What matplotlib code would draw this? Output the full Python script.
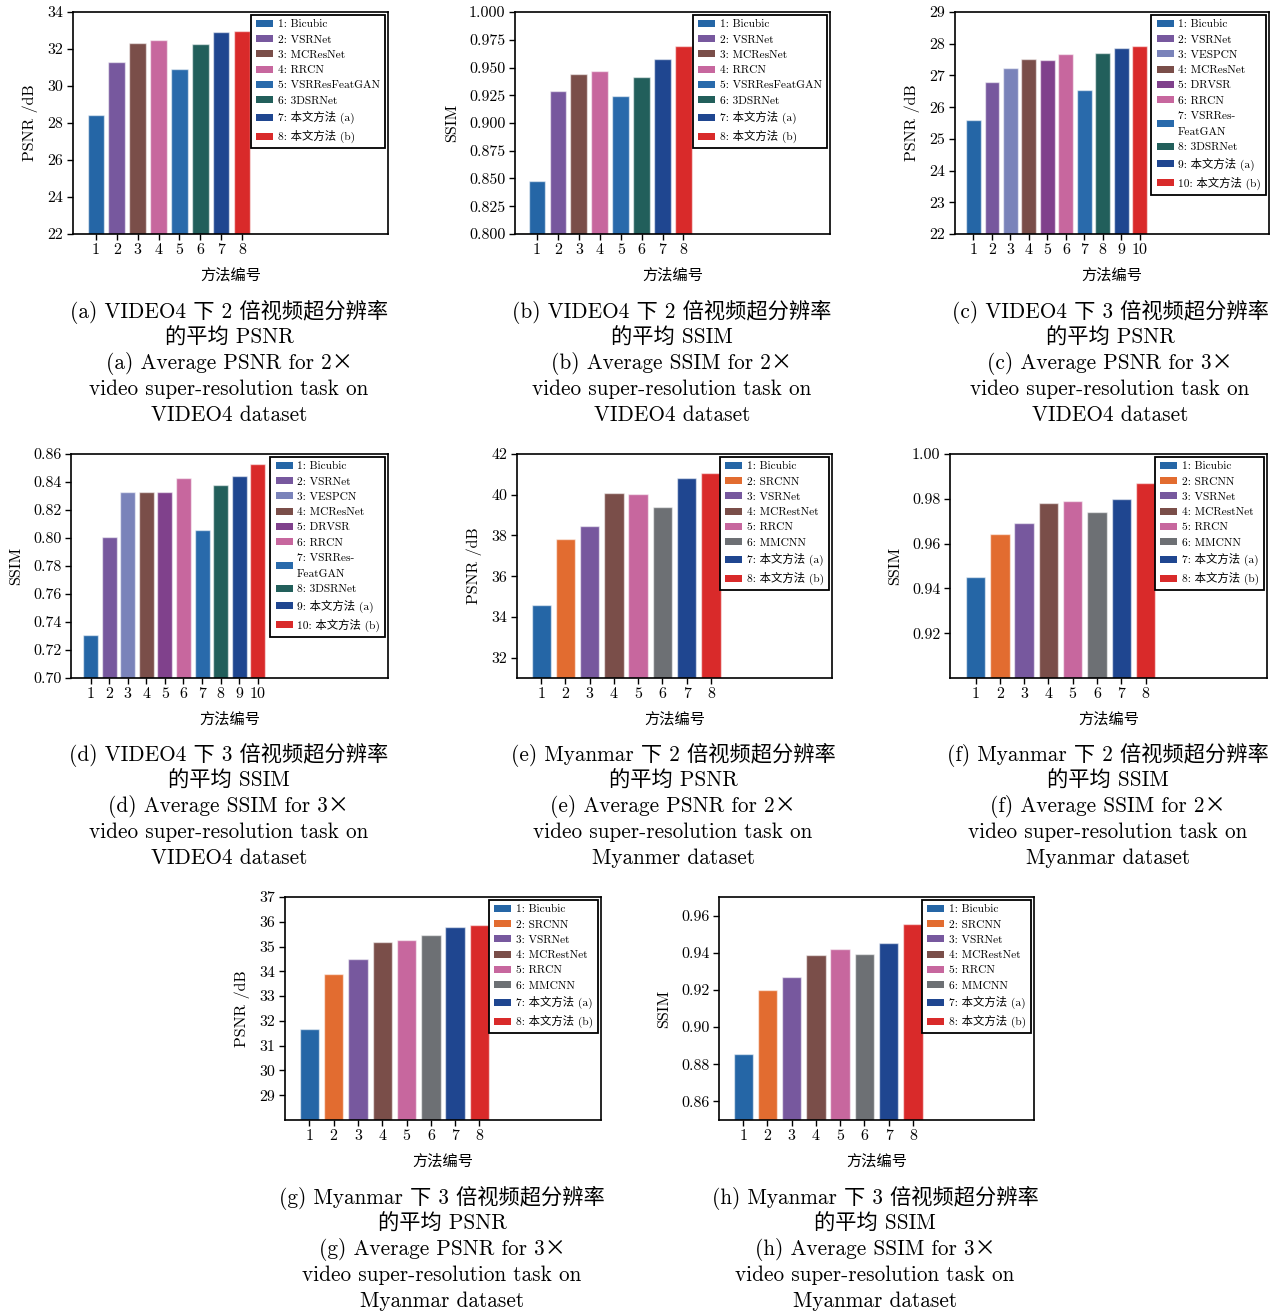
import matplotlib
matplotlib.use("Agg")
import matplotlib.pyplot as plt
from matplotlib.patches import Patch

plt.rcParams['font.family'] = ['cmr10', 'Noto Sans CJK SC', 'DejaVu Serif']
plt.rcParams['axes.formatter.use_mathtext'] = True
plt.rcParams['axes.unicode_minus'] = False

# ---- method colours ----
COL = {
    'Bicubic': '#2566a6',
    'VSRNet': '#77589e',
    'VESPCN': '#7a83ba',
    'MCResNet': '#7a4e49',
    'DRVSR': '#80418c',
    'RRCN': '#c7679e',
    'VSRResFeatGAN': '#296aab',
    '3DSRNet': '#225f5b',
    'SRCNN': '#e26c30',
    'MMCNN': '#6d7074',
    'ours_a': '#1f4690',
    'ours_b': '#d92a2a',
}

# ---- VIDEO4, 2x ----
v4x2_methods = ['Bicubic', 'VSRNet', 'MCResNet', 'RRCN', 'VSRResFeatGAN', '3DSRNet', 'ours_a', 'ours_b']
v4x2_labels = ['1: Bicubic', '2: VSRNet', '3: MCResNet', '4: RRCN', '5: VSRResFeatGAN',
               '6: 3DSRNet', '7: 本文方法 (a)', '8: 本文方法 (b)']
v4x2_psnr = [28.45, 31.31, 32.30, 32.46, 30.94, 32.26, 32.91, 32.96]
v4x2_ssim = [0.848, 0.929, 0.944, 0.9465, 0.924, 0.941, 0.958, 0.969]

# ---- VIDEO4, 3x ----
v4x3_methods = ['Bicubic', 'VSRNet', 'VESPCN', 'MCResNet', 'DRVSR', 'RRCN', 'VSRResFeatGAN',
                '3DSRNet', 'ours_a', 'ours_b']
v4x3_labels = ['1: Bicubic', '2: VSRNet', '3: VESPCN', '4: MCResNet', '5: DRVSR', '6: RRCN',
               '7: VSRRes-\nFeatGAN', '8: 3DSRNet', '9: 本文方法 (a)', '10: 本文方法 (b)']
v4x3_psnr = [25.58, 26.78, 27.25, 27.53, 27.49, 27.66, 26.53, 27.71, 27.88, 27.92]
v4x3_ssim = [0.731, 0.8004, 0.8326, 0.8331, 0.8331, 0.8431, 0.8054, 0.8376, 0.8440, 0.8531]

# ---- Myanmar ----
mm_methods = ['Bicubic', 'SRCNN', 'VSRNet', 'MCResNet', 'RRCN', 'MMCNN', 'ours_a', 'ours_b']
mm_labels = ['1: Bicubic', '2: SRCNN', '3: VSRNet', '4: MCRestNet', '5: RRCN', '6: MMCNN',
             '7: 本文方法 (a)', '8: 本文方法 (b)']
mmx2_psnr = [34.57, 37.82, 38.48, 40.10, 40.03, 39.41, 40.84, 41.05]
mmx2_ssim = [0.9449, 0.9642, 0.9691, 0.9781, 0.9791, 0.9743, 0.9801, 0.9870]
mmx3_psnr = [31.69, 33.89, 34.51, 35.20, 35.26, 35.45, 35.77, 35.89]
mmx3_ssim = [0.8857, 0.9200, 0.9268, 0.9388, 0.9421, 0.9395, 0.9452, 0.9554]

# ---- captions ----
captions = {
    'a': ['(a) VIDEO4 下 2 倍视频超分辨率', '的平均 PSNR', '(a) Average PSNR for 2×',
          'video super-resolution task on', 'VIDEO4 dataset'],
    'b': ['(b) VIDEO4 下 2 倍视频超分辨率', '的平均 SSIM', '(b) Average SSIM for 2×',
          'video super-resolution task on', 'VIDEO4 dataset'],
    'c': ['(c) VIDEO4 下 3 倍视频超分辨率', '的平均 PSNR', '(c) Average PSNR for 3×',
          'video super-resolution task on', 'VIDEO4 dataset'],
    'd': ['(d) VIDEO4 下 3 倍视频超分辨率', '的平均 SSIM', '(d) Average SSIM for 3×',
          'video super-resolution task on', 'VIDEO4 dataset'],
    'e': ['(e) Myanmar 下 2 倍视频超分辨率', '的平均 PSNR', '(e) Average PSNR for 2×',
          'video super-resolution task on', 'Myanmer dataset'],
    'f': ['(f) Myanmar 下 2 倍视频超分辨率', '的平均 SSIM', '(f) Average SSIM for 2×',
          'video super-resolution task on', 'Myanmar dataset'],
    'g': ['(g) Myanmar 下 3 倍视频超分辨率', '的平均 PSNR', '(g) Average PSNR for 3×',
          'video super-resolution task on', 'Myanmar dataset'],
    'h': ['(h) Myanmar 下 3 倍视频超分辨率', '的平均 SSIM', '(h) Average SSIM for 3×',
          'video super-resolution task on', 'Myanmar dataset'],
}

W, H = 1282, 1316
fig = plt.figure(figsize=(W / 100, H / 100), dpi=100)


def add_ax(l, t, r, b):
    return fig.add_axes([l / W, 1 - b / H, (r - l) / W, (b - t) / H])


def panel(box, methods, labels, values, ylabel, ylim, yticks, yfmt, xlim):
    ax = add_ax(*box)
    x = list(range(1, len(values) + 1))
    colors = [COL[m] for m in methods]
    ax.bar(x, values, width=0.8, color=colors, edgecolor=(1, 1, 1, 0.55), linewidth=1.0)
    ax.set_xlim(*xlim)
    ax.set_ylim(*ylim)
    ax.set_xticks(x)
    ax.set_xticklabels([str(i) for i in x])
    ax.set_yticks(yticks)
    ax.set_yticklabels([yfmt.format(v) for v in yticks])
    ax.tick_params(axis='both', direction='out', length=4, width=1, labelsize=11.5,
                   top=False, right=False, pad=3)
    for s in ax.spines.values():
        s.set_linewidth(1.2)
        s.set_color('black')
    ax.set_ylabel(ylabel, fontsize=11.5, labelpad=7)
    ax.set_xlabel('方法编号', fontsize=11, labelpad=8)
    handles = [Patch(facecolor=c, edgecolor='none') for c in colors]
    leg = ax.legend(handles, labels, loc='upper right', fontsize=8.2, frameon=True,
                    fancybox=False, framealpha=1, edgecolor='black', borderaxespad=0.25,
                    handlelength=1.5, handleheight=0.55, handletextpad=0.4,
                    labelspacing=0.5, borderpad=0.45)
    leg.get_frame().set_linewidth(1.3)
    for t in leg.get_texts():
        t.set_multialignment('left')
        t.set_linespacing(1.9)
    return ax


def caption(key, cx, y0):
    for i, line in enumerate(captions[key]):
        fig.text(cx / W, 1 - (y0 + 25.8 * i) / H, line, ha='center', va='center', fontsize=15.3)


panel((73, 12, 388, 234), v4x2_methods, v4x2_labels, v4x2_psnr, 'PSNR /dB',
      (22, 34), [22, 24, 26, 28, 30, 32, 34], '{:.0f}', (-0.1, 15))
panel((515, 12, 830, 234), v4x2_methods, v4x2_labels, v4x2_ssim, 'SSIM',
      (0.8, 1.0), [0.8 + 0.025 * i for i in range(9)], '{:.3f}', (-0.05, 15))
panel((955, 12, 1269, 234), v4x3_methods, v4x3_labels, v4x3_psnr, 'PSNR /dB',
      (22, 29), [22, 23, 24, 25, 26, 27, 28, 29], '{:.0f}', (0, 17))
panel((71, 454, 388, 678), v4x3_methods, v4x3_labels, v4x3_ssim, 'SSIM',
      (0.70, 0.86), [0.70 + 0.02 * i for i in range(9)], '{:.2f}', (-0.05, 17))
panel((517, 454, 832, 678), mm_methods, mm_labels, mmx2_psnr, 'PSNR /dB',
      (31, 42), [32, 34, 36, 38, 40, 42], '{:.0f}', (0, 13))
panel((950, 454, 1267, 678), mm_methods, mm_labels, mmx2_ssim, 'SSIM',
      (0.90, 1.00), [0.92, 0.94, 0.96, 0.98, 1.00], '{:.2f}', (-0.05, 13))
panel((285, 897, 601, 1120), mm_methods, mm_labels, mmx3_psnr, 'PSNR /dB',
      (28, 37), [29, 30, 31, 32, 33, 34, 35, 36, 37], '{:.0f}', (0, 13))
panel((719, 897, 1034, 1120), mm_methods, mm_labels, mmx3_ssim, 'SSIM',
      (0.85, 0.97), [0.86, 0.88, 0.90, 0.92, 0.94, 0.96], '{:.2f}', (0, 13))

caption('a', 229, 312)
caption('b', 672, 312)
caption('c', 1110, 312)
caption('d', 229, 755)
caption('e', 673, 755)
caption('f', 1108, 755)
caption('g', 442, 1198)
caption('h', 875, 1198)

fig.savefig('out.png', dpi=100, facecolor='white')
